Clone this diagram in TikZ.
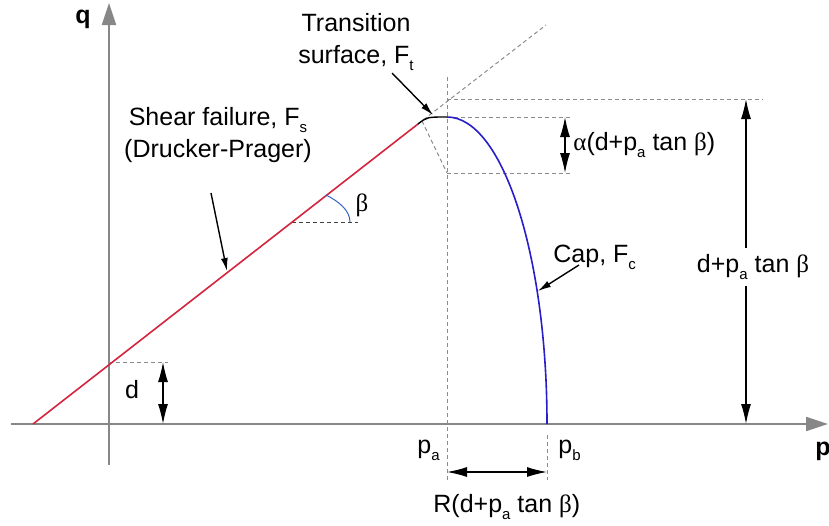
\documentclass[tikz,border=0pt]{standalone}
\usepackage{fontspec}
\setmainfont{Liberation Sans}
\newfontfamily\gk{Liberation Serif}
\usetikzlibrary{arrows.meta}
\newcommand{\sbx}[1]{\raisebox{-0.3em}{\fontsize{7.5}{8}\selectfont #1}}
\newcommand{\gb}{{\gk β}}
\newcommand{\ga}{{\gk α}}
\definecolor{axisgray}{RGB}{135,135,135}
\definecolor{guidegray}{RGB}{140,140,140}
\definecolor{shearred}{RGB}{212,36,62}
\definecolor{capblue}{RGB}{40,30,200}
\definecolor{anglblue}{RGB}{50,100,200}
\begin{document}
\begin{tikzpicture}[x=0.5pt,y=-0.5pt,
 lbl/.style={font=\fontsize{12.5}{16}\selectfont, inner sep=0pt},
 axislbl/.style={font=\fontsize{12.5}{16}\selectfont\bfseries, inner sep=0pt},
 axisline/.style={draw=axisgray, line width=1pt, -{Triangle[length=11pt,width=7pt]}},
 guide/.style={draw=guidegray, line width=0.5pt, dash pattern=on 2pt off 1.5pt},
 darkguide/.style={draw=black!75, line width=0.5pt, dash pattern=on 2pt off 1.5pt},
 dimarrow/.style={draw=black, line width=0.6pt, {Latex[length=10pt,width=5pt]}-{Latex[length=10pt,width=5pt]}},
 ptr/.style={draw=black, line width=0.7pt, -{Latex[length=6.5pt,width=3.5pt]}},
]
\useasboundingbox (0,0) rectangle (829,525);

% coordinates
\coordinate (xa0) at (11,424);
\coordinate (xa1) at (828,424);
\coordinate (ya0) at (109,465);
\coordinate (ya1) at (109,3);
\coordinate (R0) at (33,424);
\coordinate (R1) at (418,124);
\coordinate (T1) at (447,117);
\coordinate (ext) at (546,25);
\coordinate (tr) at (422,121);
\coordinate (vtop) at (447,77);
\coordinate (vbot) at (447,480);
\coordinate (pbtop) at (547,435);
\coordinate (pbbot) at (547,480);
\coordinate (h99a) at (447,99);
\coordinate (h99b) at (763,99);
\coordinate (h117b) at (573,117);
\coordinate (h173a) at (447,173);
\coordinate (h173b) at (573,173);
\coordinate (da) at (109,362);
\coordinate (db) at (168,362);
\coordinate (ba) at (292,222);
\coordinate (bb) at (358,222);
\coordinate (arc0) at (326,195);
\coordinate (arc1) at (350,222);

% axes
\draw[axisline] (xa0) -- (xa1);
\draw[axisline] (ya0) -- (ya1);

% guides
\draw[guide] (vtop) -- (vbot);
\draw[guide] (pbtop) -- (pbbot);
\draw[guide] (R1) -- (ext);
\draw[guide] (tr) -- (h173a);
\draw[guide] (h99a) -- (h99b);
\draw[guide] (T1) -- (h117b);
\draw[guide] (h173a) -- (h173b);
\draw[guide] (da) -- (db);
\draw[darkguide] (ba) -- (bb);

% yield surfaces
\draw[shearred, line width=0.8pt] (R0) -- (R1);
\draw[black, line width=0.7pt] (R1) .. controls (427,117) .. (T1);
\draw[capblue, line width=0.8pt] (T1) arc[start angle=90, end angle=0, x radius=50pt, y radius=153.5pt];
\draw[anglblue, line width=0.5pt] (arc0) .. controls (338,201) and (350,210) .. (arc1);

% dimension arrows
\draw[dimarrow] (565,117) -- (565,173);
\draw[dimarrow] (163,362) -- (163,424);
\draw[dimarrow] (447,472) -- (547,472);
\draw[dimarrow] (746,99) -- (746,424);

% labels
\node[axislbl, anchor=base west] (qlbl) at (75,23) {q};
\node[axislbl, anchor=base west] (plbl) at (815,455) {p};
\node[lbl, align=center, anchor=base] (trlbl) at (356,63) {Transition\\surface, F\sbx{t}};
\node[lbl, align=center, anchor=base] (shlbl) at (218,157) {Shear failure, F\sbx{s}\\(Drucker-Prager)};
\node[lbl, anchor=base west] (caplbl) at (553,262) {Cap, F\sbx{c}};
\node[lbl, anchor=base west] (alphalbl) at (573,150) {\ga(d+p\sbx{a} tan \gb)};
\node[lbl, anchor=base, fill=white, inner xsep=1pt, inner ysep=3pt] (hlbl) at (753,272) {d+p\sbx{a} tan \gb};
\node[lbl, anchor=base] (betalbl) at (362,211) {\gb};
\node[lbl, anchor=base] (dlbl) at (132,398) {d};
\node[lbl, anchor=base west] (palbl) at (417,453) {p\sbx{a}};
\node[lbl, anchor=base west] (pblbl) at (558,453) {p\sbx{b}};
\node[lbl, anchor=base west] (rlbl) at (433,512) {R(d+p\sbx{a} tan \gb)};

% pointers
\coordinate (shtip) at (227,271);
\coordinate (trtip) at (433,115);
\coordinate (captip) at (538,291);
\draw[ptr] (211,193) -- (shtip);
\draw[ptr] (392,73) -- (trtip);
\draw[ptr] (579,265) -- (captip);
\end{tikzpicture}
\end{document}
